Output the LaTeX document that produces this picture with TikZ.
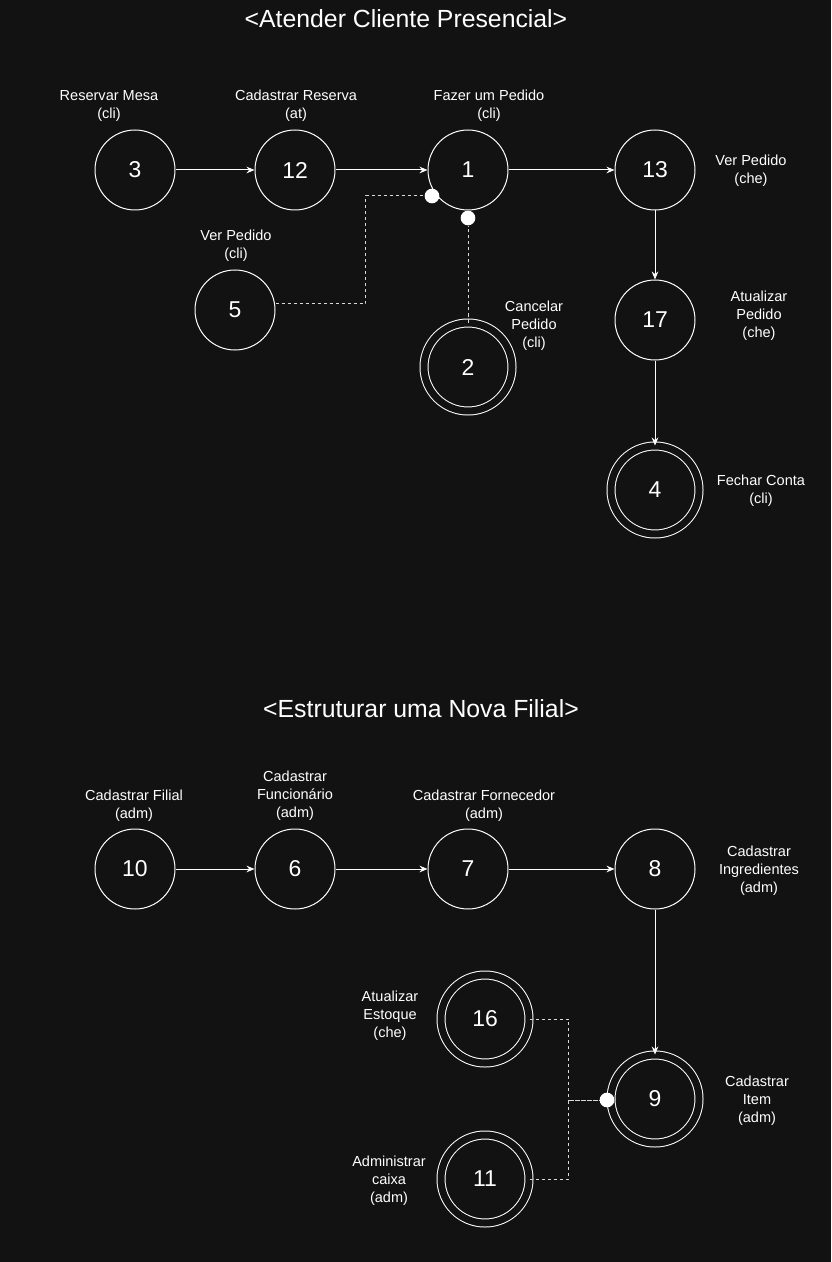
\documentclass[tikz,border=0pt]{standalone}
\usepackage{fontspec}
\setmainfont{Liberation Sans}
\usetikzlibrary{arrows.meta}

\definecolor{bgdark}{RGB}{18,18,18}

\tikzset{
  state/.style={circle,draw=white,fill=bgdark,line width=0.75pt,minimum size=60pt,inner sep=0pt,text=white,font=\fontsize{17.2}{20}\selectfont},
  final/.style={state,minimum size=66pt,double=bgdark,double distance=5.25pt},
  lbl/.style={align=center,text=white,yshift=-1.5pt,font=\fontsize{10.9}{13.5}\selectfont},
  ttl/.style={text=white,yshift=-0.75pt,font=\fontsize{18.6}{22}\selectfont},
  flow/.style={draw=white,line width=0.75pt,-{Stealth[length=6pt,width=5pt]}},
  dashline/.style={draw=white!85!black,line width=0.75pt,dash pattern=on 2.5pt off 2pt},
  dot/.style={circle,fill=white,minimum size=11pt,inner sep=0pt}
}

\begin{document}
\begin{tikzpicture}[x=0.75pt,y=-0.75pt]

\fill[bgdark] (0,0) rectangle (831,1262);
\useasboundingbox (0,0) rectangle (831,1262);

% Atender cliente presencial
\node[ttl] (t1) at (406,18) {<Atender Cliente Presencial>};

\node[state] (n3) at (135,170) {3};
\node[state] (n12) at (295,170) {12};
\node[state] (n1) at (468,170) {1};
\node[state] (n13) at (655,170) {13};
\node[state] (n5) at (235,310) {5};
\node[final] (n2) at (468,367) {2};
\node[state] (n17) at (655,320) {17};
\node[final] (n4) at (655,490) {4};

\node[lbl] (l3) at (109,104) {Reservar Mesa\\(cli)};
\node[lbl] (l12) at (296,104) {Cadastrar Reserva\\(at)};
\node[lbl] (l1) at (489,104) {Fazer um Pedido\\(cli)};
\node[lbl] (l13) at (751,169) {Ver Pedido\\(che)};
\node[lbl] (l5) at (236,244) {Ver Pedido\\(cli)};
\node[lbl] (l2) at (534,324) {Cancelar\\Pedido\\(cli)};
\node[lbl] (l17) at (759,314) {Atualizar\\Pedido\\(che)};
\node[lbl] (l4) at (761,489) {Fechar Conta\\(cli)};

\draw[flow] (n3) -- (n12);
\draw[flow] (n12) -- (n1);
\draw[flow] (n1) -- (n13);
\draw[flow] (n13) -- (n17);
\draw[flow] (n17) -- (n4);

% extensoes de 1
\node[dot] (d1) at (432,196) {};
\node[dot] (d2) at (468,218) {};
\draw[dashline] ([yshift=4.5pt]n5.east) -- ++(90,0) |- (d1);
\draw[dashline] (n2.north) -- (d2);

% Estruturar uma nova filial
\node[ttl] (t2) at (421,708) {<Estruturar uma Nova Filial>};

\node[state] (n10) at (135,869) {10};
\node[state] (n6) at (295,869) {6};
\node[state] (n7) at (468,869) {7};
\node[state] (n8) at (655,869) {8};
\node[final] (n16) at (485,1019) {16};
\node[final] (n9) at (655,1099) {9};
\node[final] (n11) at (485,1179) {11};

\node[lbl] (l10) at (134,804) {Cadastrar Filial\\(adm)};
\node[lbl] (l6) at (295,794) {Cadastrar\\Funcionário\\(adm)};
\node[lbl] (l7) at (484,804) {Cadastrar Fornecedor\\(adm)};
\node[lbl] (l8) at (759,869) {Cadastrar\\Ingredientes\\(adm)};
\node[lbl] (l16) at (390,1014) {Atualizar\\Estoque\\(che)};
\node[lbl] (l9) at (757,1099) {Cadastrar\\Item\\(adm)};
\node[lbl] (l11) at (389,1179) {Administrar\\caixa\\(adm)};

\draw[flow] (n10) -- (n6);
\draw[flow] (n6) -- (n7);
\draw[flow] (n7) -- (n8);
\draw[flow] (n8) -- (n9);

% extensoes de 9
\node[dot] (d3) at (607,1100) {};
\draw[dashline] (n16.east) -- ++(39,0) |- (d3);
\draw[dashline] (n11.east) -- ++(39,0) |- (d3);

\end{tikzpicture}
\end{document}
